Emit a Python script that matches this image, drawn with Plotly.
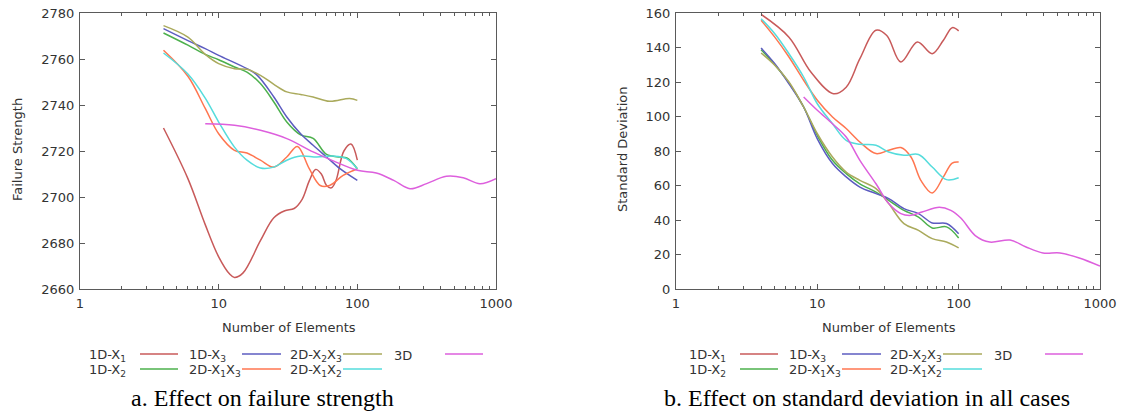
import plotly.graph_objects as go

W, H = 1121, 414

# ---------------- data: (a) failure strength ----------------
fs_1dx1_x = [4, 6, 8, 10, 12, 13, 15, 20, 25, 30, 35, 40, 45, 50, 55, 60, 65, 70, 80, 90, 100]
fs_1dx1_y = [2730, 2708, 2688, 2674, 2666.5, 2665, 2667, 2681, 2691, 2694, 2695, 2699, 2707, 2712, 2710, 2705, 2704, 2707, 2720, 2723, 2716]
fs_1dx2_x = [4, 6, 8, 10, 13, 16, 20, 25, 31, 39, 48, 60, 75, 84, 100]
fs_1dx2_y = [2771.3, 2766, 2762, 2759.7, 2756.5, 2754.3, 2749.3, 2741.3, 2732.6, 2727, 2725.5, 2718.5, 2717.4, 2717, 2712.3]
fs_1dx3_x = [4, 6, 8, 10, 16, 19, 25, 31, 39, 48, 60, 75, 100]
fs_1dx3_y = [2773.2, 2768, 2764.5, 2761.6, 2755.8, 2752.9, 2743.5, 2734.8, 2727.5, 2722.5, 2717.4, 2712.3, 2707.2]
fs_2dx2x3_x = [4, 6, 8, 10, 13, 16, 20, 25, 31, 39, 48, 63, 88, 100]
fs_2dx2x3_y = [2774.5, 2769.5, 2762, 2758, 2755.8, 2755.5, 2752.9, 2749, 2745.7, 2744.6, 2743.5, 2741.6, 2742.8, 2742]
fs_2dx1x3_x = [4, 6, 8, 10, 13, 16, 20, 25, 31, 37, 45, 54, 63, 79, 100]
fs_2dx1x3_y = [2763.8, 2752.5, 2738.5, 2727.5, 2720.3, 2719.1, 2716, 2713, 2717.4, 2722, 2712.3, 2705, 2705, 2709.4, 2712.3]
fs_2dx1x2_x = [4, 6, 8, 10, 13, 16, 20, 25, 31, 39, 51, 67, 83, 100]
fs_2dx1x2_y = [2762.6, 2753.5, 2743, 2732.6, 2721.7, 2716, 2712.6, 2713, 2716, 2717.8, 2717.4, 2717.8, 2716.8, 2712.3]
fs_3d_x = [8, 13, 20, 31, 48, 67, 100, 137, 183, 240, 316, 438, 580, 765, 1000]
fs_3d_y = [2731.9, 2731.2, 2729, 2725.4, 2719.6, 2715.7, 2711.6, 2710.4, 2707.2, 2703.6, 2705.8, 2709, 2708.4, 2705.8, 2708]

# ---------------- data: (b) standard deviation ----------------
sd_1dx1_x = [4, 6.3, 9, 13, 16, 20, 26, 31, 39, 51, 65, 78, 90, 100]
sd_1dx1_y = [159.2, 146, 125.8, 113.2, 117, 133.5, 150, 147, 131.6, 143.2, 136.4, 144.2, 151.5, 149.6]
sd_1dx3_x = [4, 5, 6.3, 8, 10, 12.8, 16, 20, 26, 32, 41, 52, 65, 82, 100]
sd_1dx3_y = [139.7, 130.6, 119, 105.5, 87, 72.7, 65, 59.1, 55.3, 52.4, 46.6, 43.7, 38.3, 38, 32]
sd_1dx2_x = [4, 5, 6.3, 8, 10, 12.8, 16, 20, 26, 32, 41, 52, 65, 82, 100]
sd_1dx2_y = [138.7, 130, 119.5, 105.5, 89, 74.6, 66.9, 61, 56.2, 51.4, 45.6, 41.7, 35.4, 36, 29.6]
sd_2dx2x3_x = [4, 5, 6.3, 8, 10, 12.8, 16, 20, 26, 32, 41, 52, 65, 82, 100]
sd_2dx2x3_y = [136.8, 129.7, 120, 105.5, 90, 76.5, 67.8, 63, 58.2, 49.5, 37.9, 34, 29.2, 27.2, 23.8]
sd_2dx1x3_x = [4, 5, 6.3, 8, 10, 12.8, 16, 20, 26, 32, 39, 46, 54, 65, 78, 90, 100]
sd_2dx1x3_y = [155.8, 146, 134.5, 121, 109.4, 99.7, 93, 85.2, 78.5, 80.4, 82, 76.5, 63, 55.7, 65, 73, 73.6]
sd_2dx1x2_x = [4, 5, 6.3, 8, 10, 12.8, 16, 20, 26, 32, 41, 52, 65, 82, 100]
sd_2dx1x2_y = [156.7, 148, 136.4, 122.9, 107.4, 95.8, 86.2, 83.9, 83.3, 79.4, 77.5, 78, 70.7, 63.4, 64.5]
sd_3d_x = [8, 10, 12.8, 16, 20, 26, 32, 39, 46, 55, 73, 88, 104, 131, 166, 231, 297, 395, 521, 713, 1000]
sd_3d_y = [111.3, 103.6, 95.8, 88.1, 74.6, 61, 49.5, 43.7, 42.7, 44.6, 47.4, 45.6, 41, 31, 27.2, 28.4, 24.5, 20.9, 20.9, 18, 13.3]

series_names = ["1D-X<sub>1</sub>", "1D-X<sub>2</sub>", "1D-X<sub>3</sub>", "2D-X<sub>1</sub>X<sub>3</sub>",
                "2D-X<sub>2</sub>X<sub>3</sub>", "2D-X<sub>1</sub>X<sub>2</sub>", "3D"]
colors = ["#c85a5a", "#4cb04c", "#5c5cc0", "#ff7650", "#aaaa5c", "#55dcdc", "#dd5fdd"]

fs_data = [(fs_1dx1_x, fs_1dx1_y), (fs_1dx2_x, fs_1dx2_y), (fs_1dx3_x, fs_1dx3_y),
           (fs_2dx1x3_x, fs_2dx1x3_y), (fs_2dx2x3_x, fs_2dx2x3_y), (fs_2dx1x2_x, fs_2dx1x2_y),
           (fs_3d_x, fs_3d_y)]
sd_data = [(sd_1dx1_x, sd_1dx1_y), (sd_1dx2_x, sd_1dx2_y), (sd_1dx3_x, sd_1dx3_y),
           (sd_2dx1x3_x, sd_2dx1x3_y), (sd_2dx2x3_x, sd_2dx2x3_y), (sd_2dx1x2_x, sd_2dx1x2_y),
           (sd_3d_x, sd_3d_y)]

fig = go.Figure()
for (xs, ys), c in zip(fs_data, colors):
    fig.add_trace(go.Scatter(x=xs, y=ys, mode="lines", line=dict(color=c, width=1.5, shape="spline", smoothing=1.0),
                             xaxis="x", yaxis="y", showlegend=False, hoverinfo="skip"))
for (xs, ys), c in zip(sd_data, colors):
    fig.add_trace(go.Scatter(x=xs, y=ys, mode="lines", line=dict(color=c, width=1.5, shape="spline", smoothing=1.0),
                             xaxis="x2", yaxis="y2", showlegend=False, hoverinfo="skip"))

def px(x):
    return x / W

def py(y):
    return 1 - y / H

AX = "#5a5a5a"
TXT = "#333333"
FONT = "DejaVu Sans"
FS = 13

def xax(domain, anchor):
    return dict(type="log", range=[0, 3], domain=domain, anchor=anchor, showgrid=False, zeroline=False,
                automargin=False,
                showline=True, linecolor=AX, linewidth=1, mirror="ticks", ticks="inside", ticklen=5,
                tickcolor=AX, dtick=1, exponentformat="none",
                minor=dict(ticks="inside", ticklen=3, tickcolor=AX, dtick="D1", showgrid=False),
                tickfont=dict(family=FONT, size=FS, color=TXT), ticklabelstandoff=2)

def yax(domain, anchor, rng):
    return dict(range=rng, domain=domain, anchor=anchor, showgrid=False, zeroline=False,
                automargin=False,
                showline=True, linecolor=AX, linewidth=1, mirror="ticks", ticks="inside", ticklen=5,
                tickcolor=AX, dtick=20, tickfont=dict(family=FONT, size=FS, color=TXT), ticklabelstandoff=2)

ydom = [py(289), py(13)]
fig.update_layout(
    width=W, height=H, margin=dict(l=0, r=0, t=0, b=0, autoexpand=False),
    paper_bgcolor="white", plot_bgcolor="white", showlegend=False,
    xaxis=xax([px(80), px(496)], "y"),
    yaxis=yax(ydom, "x", [2660, 2780]),
    xaxis2=xax([px(676), px(1100)], "y2"),
    yaxis2=yax(ydom, "x2", [0, 160]),
)

ann = []
shapes = []
# axis titles
ann.append(dict(text="Number of Elements", x=px(289), y=py(327), xref="paper", yref="paper", showarrow=False,
                font=dict(family=FONT, size=FS, color=TXT), xanchor="center", yanchor="middle"))
ann.append(dict(text="Number of Elements", x=px(889), y=py(327), xref="paper", yref="paper", showarrow=False,
                font=dict(family=FONT, size=FS, color=TXT), xanchor="center", yanchor="middle"))
ann.append(dict(text="Failure Strength", x=px(17), y=py(150), xref="paper", yref="paper", showarrow=False,
                textangle=-90, font=dict(family=FONT, size=FS, color=TXT), xanchor="center", yanchor="middle"))
ann.append(dict(text="Standard Deviation", x=px(622), y=py(150), xref="paper", yref="paper", showarrow=False,
                textangle=-90, font=dict(family=FONT, size=FS, color=TXT), xanchor="center", yanchor="middle"))
# captions
ann.append(dict(text="a. Effect on failure strength", x=px(262), y=py(398), xref="paper", yref="paper",
                showarrow=False, font=dict(family="Liberation Serif", size=24, color="black"),
                xanchor="center", yanchor="middle"))
ann.append(dict(text="b. Effect on standard deviation in all cases", x=px(867), y=py(398), xref="paper",
                yref="paper", showarrow=False, font=dict(family="Liberation Serif", size=24, color="black"),
                xanchor="center", yanchor="middle"))

# legends (gnuplot style: label then sample line)
# slot order: row1 -> 1D-X1, 1D-X3, 2D-X2X3, 3D ; row2 -> 1D-X2, 2D-X1X3, 2D-X1X2
slots = [(0, 0), (1, 0), (0, 1), (1, 1), (0, 2), (1, 2), (0, 3)]  # (row, col) per series index
col_text = [87, 187, 288, 392]
col_line = [(140, 178), (242, 281), (343, 382), (445, 483)]
row_y = [354, 369]
for offset in (0, 600):
    for i, (r, cidx) in enumerate(slots):
        ann.append(dict(text=series_names[i], x=px(col_text[cidx] + offset), y=py(row_y[r] + 1), xref="paper",
                        yref="paper", showarrow=False, font=dict(family=FONT, size=FS, color=TXT),
                        xanchor="left", yanchor="middle"))
        x0, x1 = col_line[cidx]
        shapes.append(dict(type="line", xref="paper", yref="paper", x0=px(x0 + offset), x1=px(x1 + offset),
                           y0=py(row_y[r]), y1=py(row_y[r]), line=dict(color=colors[i], width=1.5)))

fig.update_layout(annotations=ann, shapes=shapes)
fig.write_html("out.html", config={"displayModeBar": False},
               post_script="document.body.style.margin='0px';document.body.style.overflow='hidden';")
